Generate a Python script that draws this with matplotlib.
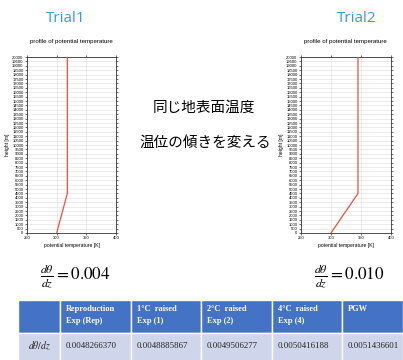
import matplotlib
matplotlib.use('Agg')
import matplotlib.pyplot as plt
from matplotlib.patches import Rectangle
import numpy as np

plt.rcParams['font.family'] = ['Liberation Sans', 'Noto Sans CJK JP']
plt.rcParams['mathtext.fontset'] = 'stix'

W, H = 403, 360

# profile data (height [m], potential temperature [K])
height = [0, 4500, 20000]
theta_trial1 = [300, 318, 318]
theta_trial2 = [300, 345, 345]
trial_names = ['Trial1', 'Trial2']
slopes = ['0.004', '0.010']

# table
col_heads = ['', 'Reproduction\nExp (Rep)', '1°C  raised\nExp (1)', '2°C  raised\nExp (2)',
             '4°C  raised\nExp (4)', 'PGW']
row_label = r'$d\theta/dz$'
row_vals = ['0.0048266370', '0.0048885867', '0.0049506277', '0.0050416188', '0.0051436601']
col_edges = [18, 60, 131, 201, 272, 342, 403]

fig = plt.figure(figsize=(W / 100, H / 100), dpi=100)
bg = fig.add_axes([0, 0, 1, 1])
bg.set_xlim(0, W)
bg.set_ylim(H, 0)
bg.axis('off')


def px(x0, y0, x1, y1):
    return [x0 / W, 1 - y1 / H, (x1 - x0) / W, (y1 - y0) / H]


def profile(box, theta):
    ax = fig.add_axes(px(*box))
    ax.plot(theta, height, color='#f0503a', lw=0.9, zorder=3)
    ax.set_xlim(250, 400)
    ax.set_ylim(0, 20000)
    ax.set_xticks([250, 300, 350, 400])
    ax.set_yticks(np.arange(0, 20001, 500))
    ax.grid(True, color='#dddddd', lw=0.4)
    ax.tick_params(labelsize=3, length=1.5, width=0.4, pad=1, right=True, top=True)
    for s in ax.spines.values():
        s.set_linewidth(0.6)
        s.set_color('#333333')
    ax.set_xlabel('potential temperature [K]', fontsize=3.6, labelpad=1.5)
    ax.set_ylabel('height [m]', fontsize=3.6, labelpad=1.5)
    return ax


profile((27, 57, 116, 233), theta_trial1)
profile((301, 57, 391, 233), theta_trial2)

# titles
for x, name in zip([66, 357], trial_names):
    bg.text(x, 18, name, fontsize=11, color='#2f9fdc', ha='center', va='center',
            family=['Open Sans', 'DejaVu Sans'])
for x in [71, 345]:
    bg.text(x, 42, 'profile of potential temperature', fontsize=4.4, ha='center', va='center')

bg.text(204, 108, '同じ地表面温度', fontsize=10.5, ha='center', va='center',
        family=['Noto Sans CJK JP'])
bg.text(205, 143, '温位の傾きを変える', fontsize=10.5, ha='center', va='center',
        family=['Noto Sans CJK JP'])

# equations
for x, s in zip([40, 314], slopes):
    bg.text(x, 276, r'$\frac{d\theta}{dz} = %s$' % s, fontsize=12.3, ha='left', va='center')

# table
top, mid, bot = 300, 333, 361
for i in range(len(col_edges) - 1):
    x0, x1 = col_edges[i], col_edges[i + 1]
    bg.add_patch(Rectangle((x0, top), x1 - x0, mid - top, fc='#4472c4', ec='white', lw=1))
    bg.add_patch(Rectangle((x0, mid), x1 - x0, bot - mid, fc='#cfd5ea', ec='white', lw=1))
    bg.text(x0 + 6, 305, col_heads[i], fontsize=6, color='white', fontweight='bold',
            ha='left', va='top', family='Liberation Serif', linespacing=1.7)
    if i == 0:
        bg.text(x0 + 21, 346, row_label, fontsize=7, ha='center', va='center', color='#222222')
    else:
        bg.text(x0 + 6, 346, row_vals[i - 1], fontsize=6.3, ha='left', va='center',
                family='Liberation Serif', color='#222222')

fig.savefig('out.png', dpi=100)
